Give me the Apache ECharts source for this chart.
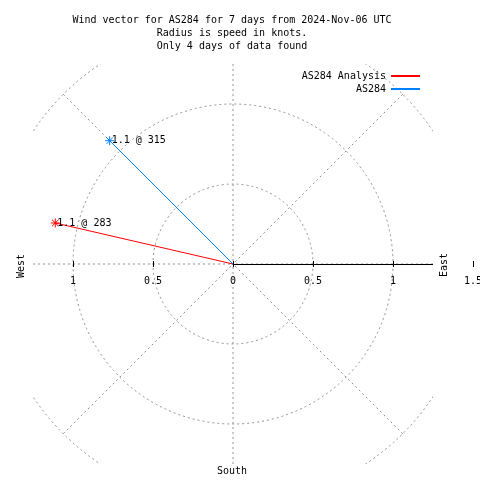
<!DOCTYPE html>
<html><head><meta charset="utf-8">
<script src="https://cdn.jsdelivr.net/npm/echarts@6/dist/echarts.min.js"></script>
<style>html,body{margin:0;padding:0;background:#fff}#c{width:480px;height:480px}</style>
</head><body><div id="c"></div>
<script>
// ---- data ----
const titleLines = ['Wind vector for AS284 for 7 days from 2024-Nov-06 UTC', 'Radius is speed in knots.', 'Only 4 days of data found'];
const seriesNames = ['AS284 Analysis', 'AS284'];
const speeds = [1.14, 1.09];       // knots
const directions = [283, 315];     // degrees, clockwise from north
const seriesColors = ['#ff0000', '#0080ff'];
const radiusTicks = [0, 0.5, 1, 1.5];
const xTickValues = [-1.5, -1, -0.5, 0, 0.5, 1, 1.5];
const compassLabels = ['West', 'East', 'South'];

// ---- styles ----
const FONT = 'DejaVu Sans Mono';
const GRIDLINE = { color: '#929292', type: [2, 3], width: 1 };
const STAR = 'path://M0,4.5L9,4.5M4.5,0L4.5,9M1.3,1.3L7.7,7.7M7.7,1.3L1.3,7.7';
const CX = 233, CY = 264;

const chart = echarts.init(document.getElementById('c'));

const series = seriesNames.map((name, i) => ({
  name, type: 'line', coordinateSystem: 'polar', polarIndex: 0,
  symbol: 'none', color: seriesColors[i], z: 2 + i,
  lineStyle: { width: 1, color: seriesColors[i] },
  data: [
    { value: [0, directions[i]] },
    {
      value: [speeds[i], directions[i]], symbol: STAR, symbolSize: 9,
      itemStyle: { color: seriesColors[i], borderColor: seriesColors[i], borderWidth: 1 },
      label: {
        show: true, position: 'right', distance: -3, color: '#000',
        fontFamily: FONT, fontSize: 10,
        formatter: p => p.value[0].toFixed(1) + ' @ ' + p.value[1]
      }
    }
  ]
}));

const maskFill = { fill: '#fff' };
chart.setOption({
  animation: false,
  backgroundColor: '#fff',
  title: {
    text: titleLines.join('\n'), left: 232, top: 14, textAlign: 'center', padding: 0,
    textStyle: { fontFamily: FONT, fontSize: 10, fontWeight: 'normal', color: '#000', lineHeight: 13 }
  },
  legend: {
    orient: 'vertical', right: 59, top: 71, align: 'right', itemWidth: 29, itemHeight: 10, itemGap: 3, padding: 0,
    itemStyle: { opacity: 0 },
    textStyle: { fontFamily: FONT, fontSize: 10, color: '#000' }, data: seriesNames
  },
  polar: [
    { center: [CX, CY], radius: 240 },
    { center: [CX, CY], radius: 200 }
  ],
  angleAxis: [
    { polarIndex: 0, type: 'value', startAngle: 90, clockwise: true, min: 0, max: 360, interval: 45,
      axisLine: { show: false }, axisTick: { show: false }, axisLabel: { show: false },
      splitLine: { show: true, lineStyle: GRIDLINE } },
    { polarIndex: 1, type: 'value', startAngle: 0, min: 0, max: 360, show: false }
  ],
  radiusAxis: [
    { polarIndex: 0, type: 'value', min: radiusTicks[0], max: radiusTicks[radiusTicks.length - 1], interval: 0.5,
      axisLine: { show: false }, axisTick: { show: false }, axisLabel: { show: false },
      splitLine: { show: true, lineStyle: GRIDLINE } },
    { polarIndex: 1, type: 'value', min: 0, max: 1.25,
      axisLine: { show: true, lineStyle: { color: '#000', width: 1 } },
      axisTick: { show: false }, axisLabel: { show: false }, splitLine: { show: false } }
  ],
  grid: { left: CX - 240, top: CY - 200, width: 480, height: 200, show: false, outerBoundsMode: 'none', containLabel: false },
  xAxis: [
    { type: 'value', min: xTickValues[0], max: xTickValues[xTickValues.length - 1], interval: 0.5, position: 'bottom', z: 5,
      axisLine: { show: false, onZero: false },
      axisTick: { show: true, length: 3, lineStyle: { color: '#000', width: 1 } },
      axisLabel: { margin: 12, color: '#000', fontFamily: FONT, fontSize: 10, showMinLabel: true, showMaxLabel: true,
        formatter: v => (v <= xTickValues[0] ? '' : String(Math.abs(v))) },
      splitLine: { show: false } },
    { type: 'value', min: xTickValues[0], max: xTickValues[xTickValues.length - 1], interval: 0.5, position: 'bottom', z: 5,
      axisLine: { show: false, onZero: false },
      axisTick: { show: true, inside: true, length: 3, lineStyle: { color: '#000', width: 1 } },
      axisLabel: { show: false }, splitLine: { show: false } }
  ],
  yAxis: { type: 'value', min: 0, max: 1, show: false },
  graphic: [
    { type: 'rect', z: 1, shape: { x: 0, y: 0, width: CX - 200, height: 480 }, style: maskFill, silent: true },
    { type: 'rect', z: 1, shape: { x: CX + 200, y: 0, width: 480, height: 480 }, style: maskFill, silent: true },
    { type: 'rect', z: 1, shape: { x: 0, y: 0, width: 480, height: CY - 200 }, style: maskFill, silent: true },
    { type: 'rect', z: 1, shape: { x: 0, y: CY + 200, width: 480, height: 480 }, style: maskFill, silent: true },
    { type: 'text', z: 10, x: 21, y: 266, rotation: Math.PI / 2,
      style: { text: compassLabels[0], font: '10px ' + FONT, fill: '#000', align: 'center', verticalAlign: 'middle' } },
    { type: 'text', z: 10, x: 444, y: 265, rotation: Math.PI / 2,
      style: { text: compassLabels[1], font: '10px ' + FONT, fill: '#000', align: 'center', verticalAlign: 'middle' } },
    { type: 'text', z: 10, x: 232, y: 471,
      style: { text: compassLabels[2], font: '10px ' + FONT, fill: '#000', align: 'center', verticalAlign: 'middle' } }
  ],
  series
});
</script></body></html>
